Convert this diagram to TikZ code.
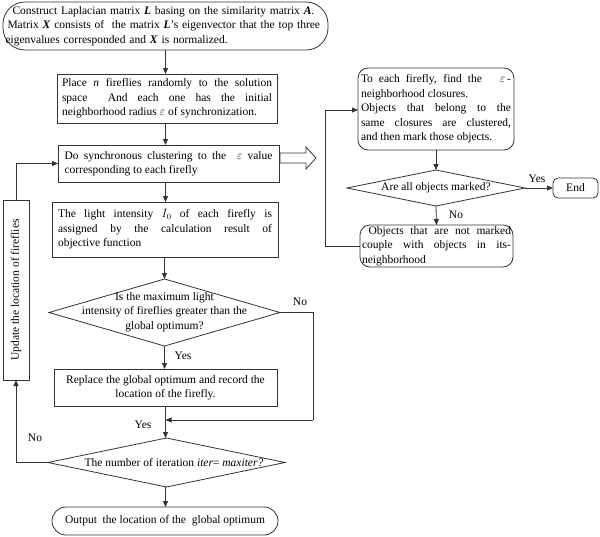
\documentclass[tikz,border=0pt]{standalone}
\usepackage{fontspec}
\setmainfont{Liberation Serif}
\usetikzlibrary{arrows.meta,shapes.geometric,calc}
\begin{document}
\begin{tikzpicture}[x=1pt,y=-1pt,
  font=\fontsize{11.5}{14.5}\selectfont,
  line/.style={draw=black!80, line width=0.8pt},
  arr/.style={line, -{Triangle[length=6pt,width=5pt]}},
  box/.style={line, inner sep=0pt, outer sep=0pt, execute at begin node={\hyphenpenalty=10000}},
  dia/.style={line, diamond, inner sep=0pt, outer sep=0pt},
  lbl/.style={inner sep=0pt}]
\useasboundingbox (0,0) rectangle (600,536);
% main column
\node[box, rounded corners=22pt, minimum width=325pt, minimum height=48pt, text width=320pt, align=left] (top) at (165.5,26)
 {\hspace*{7pt}Construct Laplacian matrix \textbf{\textit{L}} basing on the similarity matrix \textbf{\textit{A}}.\\
 \hspace*{2pt}Matrix \textbf{\textit{X}} consists of\ \ the matrix \textbf{\textit{L}}'s eigenvector that the top three\\
 eigenvalues corresponded and \textbf{\textit{X}} is normalized.};
\node[box, minimum width=220pt, minimum height=49pt, text width=210pt, align=justify] (b2) at (167,98.5)
 {Place \textit{n} fireflies randomly to the solution\linebreak space\ \ And each one has the initial\linebreak neighborhood radius~$\varepsilon$~of synchronization.};
\node[box, minimum width=221pt, minimum height=37pt, text width=208pt, align=justify] (b3) at (168.5,163.5)
 {Do synchronous clustering to the\ \ $\varepsilon$ value\linebreak corresponding to each firefly};
\node[box, minimum width=226pt, minimum height=55pt, text width=214pt, align=justify] (b4) at (165,229.5)
 {The light intensity $I_0$ of each firefly is\linebreak assigned by the calculation result of\linebreak objective function};
\node[dia, minimum width=231pt, minimum height=67pt] (d1) at (164.5,312.5) {};
\node[lbl, align=center] (d1t) at (164.5,312) {Is the maximum light\\ intensity of fireflies greater than the\\ global optimum?};
\node[box, minimum width=223pt, minimum height=37pt, align=center] (b5) at (165.5,387.5)
 {Replace the global optimum and record the\\ location of the firefly.};
\node[dia, minimum width=237pt, minimum height=49pt] (d2) at (166.5,462.5) {};
\node[lbl] (d2t) at (174,463) {The number of iteration \textit{iter}= \textit{maxiter?}};
\node[box, rounded corners=14pt, minimum width=226pt, minimum height=28pt] (out) at (165,521)
 {Output\ \ the location of the\ \ global optimum};
\node[box, minimum width=26pt, minimum height=180pt] (upd) at (16,290) {};
\node[lbl, rotate=90] (updt) at (16,290) {Update the location of fireflies};
% right column
\node[box, rounded corners=10pt, minimum width=156pt, minimum height=82pt, text width=150pt, align=justify] (rt) at (436,109)
 {To each firefly, find the\ \ \ $\varepsilon$\,-\linebreak neighborhood closures.\\
 Objects that belong to the\linebreak same closures are clustered,\linebreak and then mark those objects.};
\node[dia, minimum width=178pt, minimum height=36pt] (d3) at (436,188) {};
\node[lbl] (d3t) at (436,188) {Are all objects marked?};
\node[box, rounded corners=5pt, minimum width=45pt, minimum height=20pt] (end) at (575.5,188) {End};
\node[box, rounded corners=10pt, minimum width=153pt, minimum height=42pt, text width=149pt, align=justify] (rb) at (436.5,246)
 {\ Objects that are not marked\linebreak couple with objects in its-\linebreak neighborhood};
% hollow arrow
\draw[line] (280,153) -- (306,153) -- (306,147) -- (316,158) -- (306,169) -- (306,163) -- (280,163) -- cycle;
% coordinates
\coordinate (c1) at (313,420);
\coordinate (c2) at (165.5,420);
\coordinate (c3) at (325,110);
% connectors
\draw[arr] (top.south -| 165.5,0) -- (b2.north -| 165.5,0);
\draw[arr] (b2.south -| 165.5,0) -- (b3.north -| 165.5,0);
\draw[arr] (b3.south -| 165.5,0) -- (b4.north -| 165.5,0);
\draw[arr] (b4.south -| 164.5,0) -- (d1.north);
\draw[arr] (d1.south) -- (b5.north -| d1.south);
\draw[arr] (b5.south -| 165.5,0) -- (d2.north -| 165.5,0);
\draw[line] (d1.east) -| (c1);
\draw[arr] (c1) -- (c2);
\draw[arr] (d2.south -| 165.5,0) -- (out.north -| 165.5,0);
\draw[arr] (d2.west) -| (upd.south);
\draw[arr] (upd.north) |- (b3.west);
\draw[arr] (rb.west) -| (c3) -- (c3 -| rt.west);
\draw[arr] (rt.south) -- (d3.north);
\draw[arr] (d3.east) -- (end.west);
\draw[arr] (d3.south) -- (rb.north);
% labels
\node[lbl] (l1) at (300,302) {No};
\node[lbl] (l2) at (183,356) {Yes};
\node[lbl] (l3) at (143,425) {Yes};
\node[lbl] (l4) at (35,438) {No};
\node[lbl] (l5) at (537,179) {Yes};
\node[lbl] (l6) at (456,215) {No};
\end{tikzpicture}
\end{document}
